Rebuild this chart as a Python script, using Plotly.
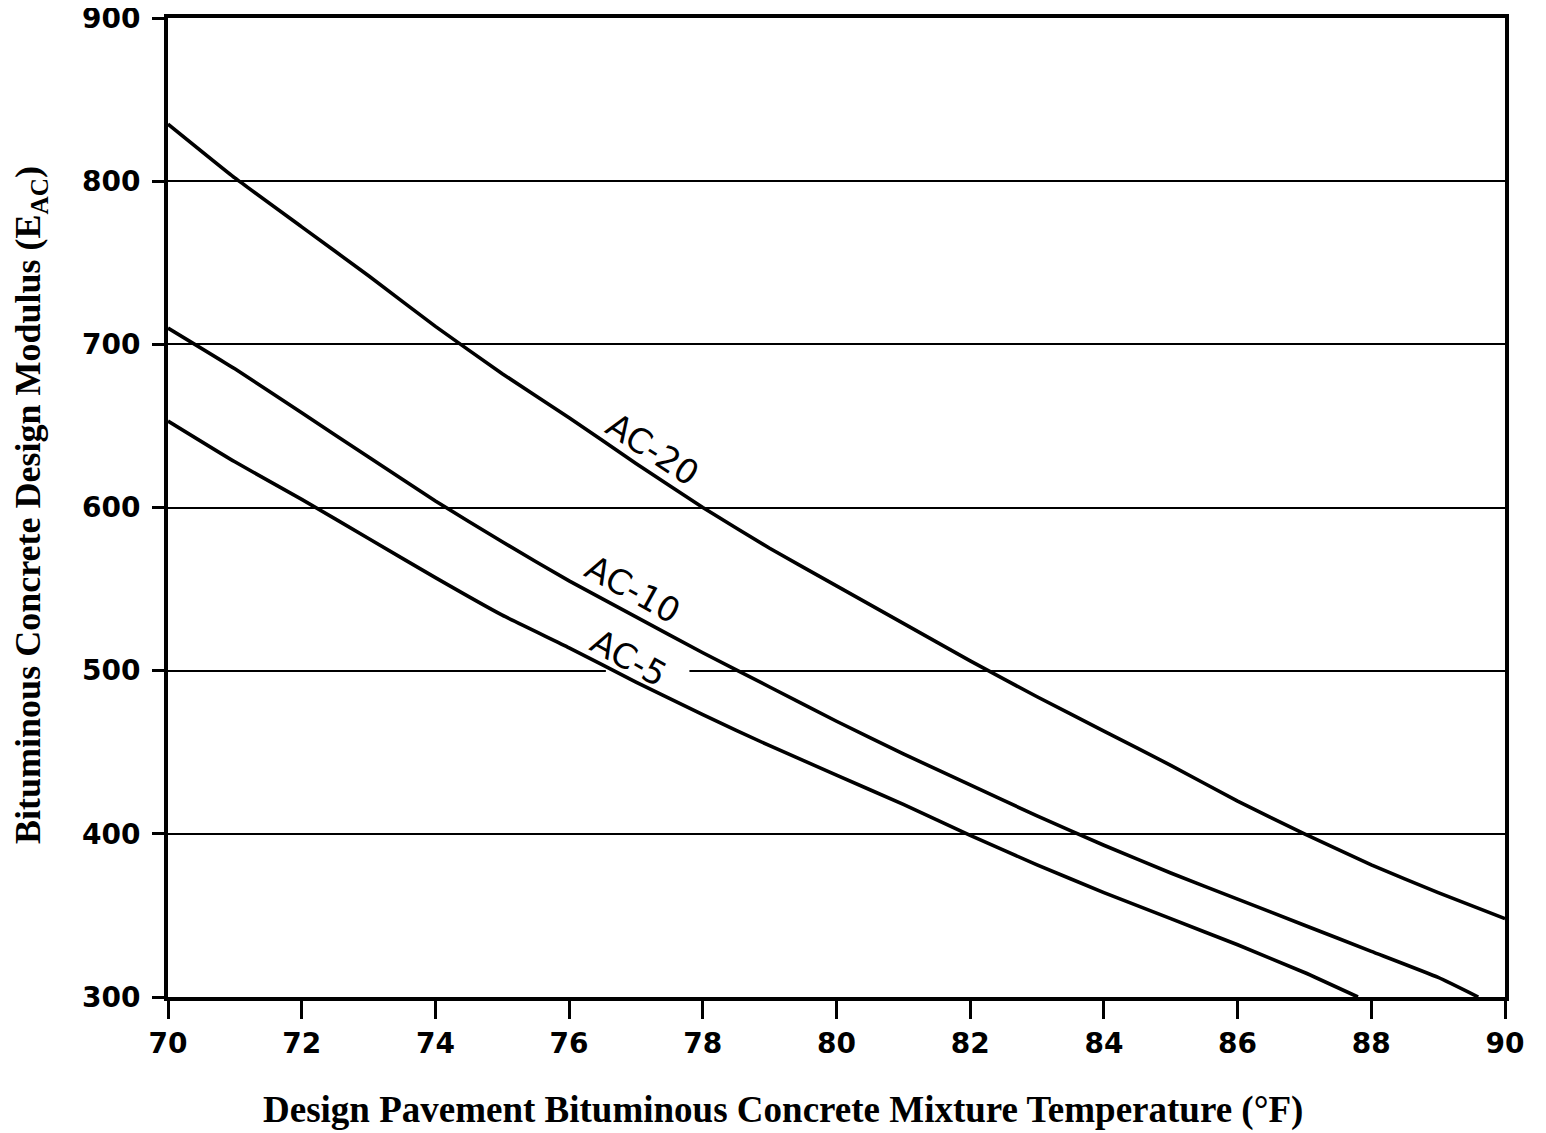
import plotly.graph_objects as go

temps_20 = [70, 71, 72, 73, 74, 75, 76, 77, 78, 79, 80, 81, 82, 83, 84, 85, 86, 87, 88, 89, 90]
ac20 = [835, 802, 772, 742, 711, 682, 655, 627, 600, 575, 552, 529, 506, 484, 463, 442, 420, 400, 381, 364, 348]

temps_10 = [70, 71, 72, 73, 74, 75, 76, 77, 78, 79, 80, 81, 82, 83, 84, 85, 86, 87, 88, 89, 89.6]
ac10 = [710, 685, 658, 631, 604, 579, 555, 533, 511, 490, 469, 449, 430, 411, 393, 376, 360, 344, 328, 312, 300]

temps_5 = [70, 71, 72, 73, 74, 75, 76, 77, 78, 79, 80, 81, 82, 83, 84, 85, 86, 87, 87.8]
ac5 = [653, 628, 605, 581, 557, 534, 514, 493, 473, 454, 436, 418, 399, 381, 364, 348, 332, 315, 300]

labels = ["AC-20", "AC-10", "AC-5"]
label_x = [77.25, 76.95, 76.9]
label_y = [636, 550, 508]
label_angle = [33, 29, 29]

x_ticks = [70, 72, 74, 76, 78, 80, 82, 84, 86, 88, 90]
y_ticks = [300, 400, 500, 600, 700, 800, 900]

x_title = "Design Pavement Bituminous Concrete Mixture Temperature (°F)"
y_title = "Bituminous Concrete Design Modulus (E<sub>AC</sub>)"

fig = go.Figure()
for tx, ty in [(temps_20, ac20), (temps_10, ac10), (temps_5, ac5)]:
    fig.add_trace(go.Scatter(x=tx, y=ty, mode="lines",
                             line=dict(color="black", width=3.6, shape="spline", smoothing=0.4),
                             showlegend=False, hoverinfo="skip"))

# break in the 500 gridline behind the AC-5 label
fig.add_shape(type="line", x0=76.55, x1=77.8, y0=500, y1=500,
              line=dict(color="white", width=6), layer="between")

for t, x, y, a in zip(labels, label_x, label_y, label_angle):
    fig.add_annotation(x=x, y=y, text=t, showarrow=False, textangle=a,
                       font=dict(family="DejaVu Sans", size=34, color="black"))

title_font = dict(family="Liberation Serif", size=37, color="black", weight="bold")
fig.add_annotation(xref="paper", yref="paper", x=0.46, y=-0.1154, xanchor="center", yanchor="middle",
                   text=x_title, showarrow=False, font=title_font)
fig.add_annotation(xref="paper", yref="paper", x=-0.1025, y=0.5026, xanchor="center", yanchor="middle",
                   text=y_title, showarrow=False, textangle=-90,
                   font=dict(family="Liberation Serif", size=36, color="black", weight="bold"))

tick_font = dict(family="DejaVu Sans", size=28, color="black", weight="bold")
fig.update_layout(
    width=1538, height=1125,
    margin=dict(l=160, r=41, t=10, b=136),
    paper_bgcolor="white", plot_bgcolor="white",
    xaxis=dict(range=[70, 90], tickvals=x_ticks, ticktext=[str(v) for v in x_ticks],
               showgrid=False, zeroline=False, showline=True, linecolor="black", linewidth=4, mirror=True,
               ticks="outside", ticklen=18, tickwidth=3, tickcolor="black",
               tickfont=tick_font, automargin=False, ticklabeloverflow="allow"),
    yaxis=dict(range=[300, 900], tickvals=y_ticks, ticktext=[str(v) for v in y_ticks],
               showgrid=True, gridcolor="black", gridwidth=2.2, zeroline=False,
               showline=True, linecolor="black", linewidth=4, mirror=True,
               ticks="outside", ticklen=12, tickwidth=3, tickcolor="black", ticklabelstandoff=6,
               tickfont=tick_font, automargin=False, ticklabeloverflow="allow"),
)

fig.write_html("out.html")
